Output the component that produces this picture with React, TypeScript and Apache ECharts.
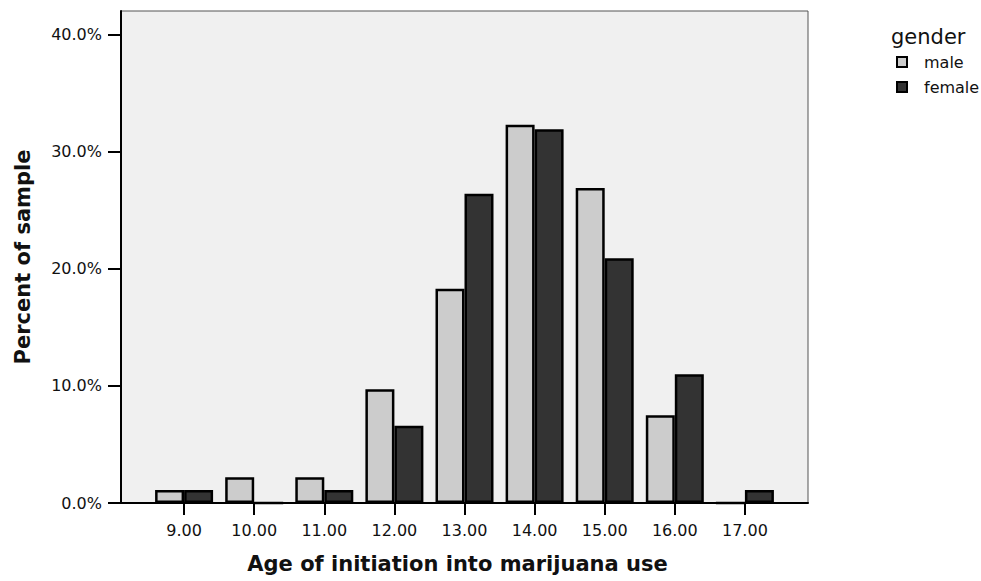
import React, { useEffect, useRef } from "react";
import * as echarts from "echarts";

const ages = [9, 10, 11, 12, 13, 14, 15, 16, 17];
const maleValues = [1.1, 2.2, 2.2, 9.7, 18.3, 32.3, 26.9, 7.5, 0];
const femaleValues = [1.1, 0, 1.1, 6.6, 26.4, 31.9, 20.9, 11.0, 1.1];
const yTicks = [0, 10, 20, 30, 40];

export default function App() {
  const ref = useRef<HTMLDivElement>(null);
  useEffect(() => {
    if (!ref.current) return;
    const chart = echarts.init(ref.current, null, { renderer: "svg" });
    const font = "'DejaVu Sans', 'Liberation Sans', Arial, sans-serif";
    chart.setOption({
      animation: false,
      backgroundColor: "#ffffff",
      textStyle: { fontFamily: font },
      grid: {
        left: 121,
        right: 173,
        top: 11,
        bottom: 78,
        show: true,
        backgroundColor: "#f0f0f0",
        borderColor: "#555555",
        borderWidth: 1,
      },
      title: {
        text: "gender",
        left: 886,
        top: 21,
        textStyle: { fontFamily: font, fontSize: 21, fontWeight: "normal", color: "#111" },
      },
      legend: {
        orient: "vertical",
        left: 891,
        top: 49,
        itemWidth: 10,
        itemHeight: 10,
        itemGap: 9,
        icon: "rect",
        textStyle: { fontFamily: font, fontSize: 16, color: "#111", padding: [0, 0, 0, 12] },
        data: ["male", "female"],
      },
      xAxis: {
        type: "value",
        min: 8.1,
        max: 17.9,
        name: "Age of initiation into marijuana use",
        nameLocation: "middle",
        nameGap: 50,
        nameTextStyle: {
          fontFamily: font,
          fontSize: 21,
          fontWeight: "bold",
          color: "#111",
          padding: [0, 14, 0, 0],
        },
        axisLine: { show: true, onZero: false, lineStyle: { color: "#000", width: 2 } },
        axisTick: {
          show: true,
          length: 12,
          lineStyle: { color: "#000", width: 2 },
          customValues: ages,
        },
        axisLabel: {
          margin: 19,
          fontSize: 16,
          color: "#111",
          fontFamily: font,
          customValues: ages,
          formatter: (v: number) => v.toFixed(2),
        },
        splitLine: { show: false },
      },
      yAxis: {
        type: "value",
        min: 0,
        max: 42,
        name: "Percent of sample",
        nameLocation: "middle",
        nameGap: 88,
        nameTextStyle: { fontFamily: font, fontSize: 21, fontWeight: "bold", color: "#111" },
        axisLine: { show: true, lineStyle: { color: "#000", width: 2 } },
        axisTick: {
          show: true,
          length: 13,
          lineStyle: { color: "#000", width: 2 },
          customValues: yTicks,
        },
        axisLabel: {
          margin: 19,
          fontSize: 16,
          color: "#111",
          fontFamily: font,
          customValues: yTicks,
          formatter: (v: number) => v.toFixed(1) + "%",
        },
        splitLine: { show: false },
      },
      series: [
        {
          name: "male",
          type: "bar",
          barWidth: 29,
          barGap: "0%",
          itemStyle: { color: "#cccccc", borderColor: "#000", borderWidth: 2.5 },
          data: ages.map((a, i) => [a, maleValues[i]]),
        },
        {
          name: "female",
          type: "bar",
          barWidth: 29,
          barGap: "0%",
          itemStyle: { color: "#333333", borderColor: "#000", borderWidth: 2.5 },
          data: ages.map((a, i) => [a, femaleValues[i]]),
        },
      ],
    });
    return () => chart.dispose();
  }, []);
  return (
    <div
      ref={ref}
      style={{ position: "absolute", left: 0, top: 0, width: 981, height: 581 }}
    />
  );
}
